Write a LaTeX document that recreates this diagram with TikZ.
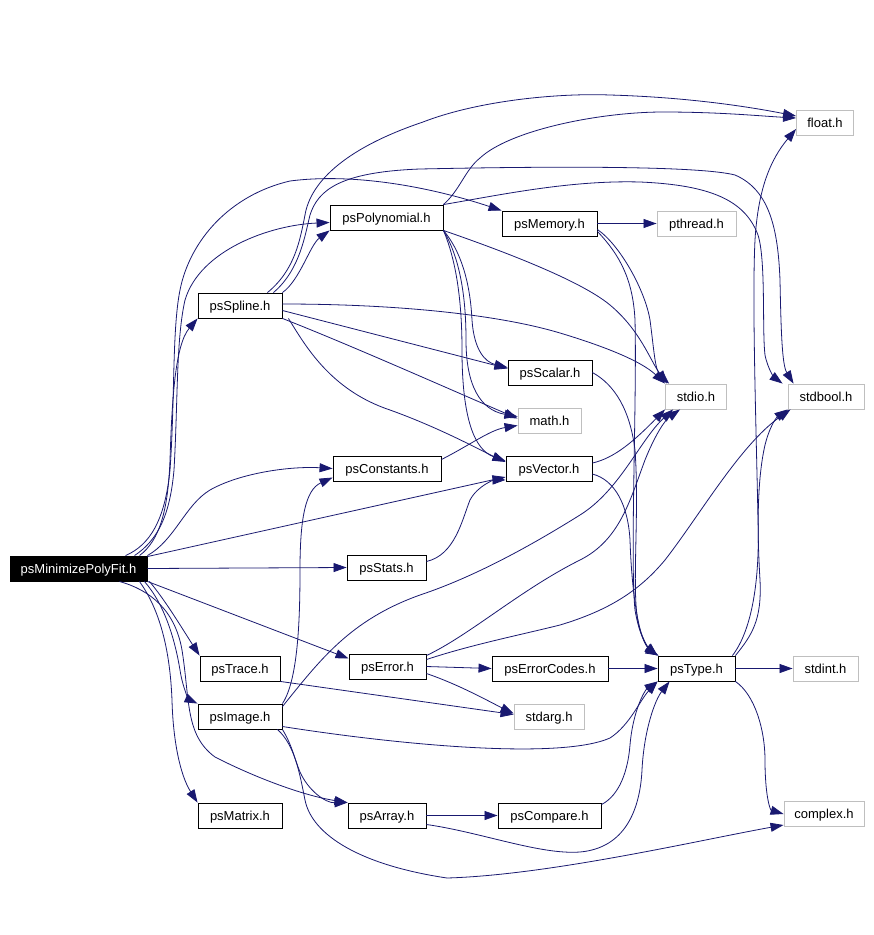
\documentclass[tikz,border=0pt]{standalone}
\usepackage{fontspec}
\setmainfont{Liberation Sans}
\usetikzlibrary{arrows.meta,calc}
\definecolor{edgeblue}{HTML}{191970}
\definecolor{sysgray}{HTML}{BFBFBF}
\begin{document}
\begin{tikzpicture}[x=1pt,y=-1pt,
  nd/.style={draw=black,line width=0.9pt,inner sep=0pt,minimum height=25pt,text height=12pt,text depth=2.5pt,font=\fontsize{13}{15}\selectfont},
  sys/.style={nd,draw=sysgray},
  ed/.style={draw=edgeblue,line width=0.8pt,-{Triangle[length=13pt,width=9pt]}}]
\useasboundingbox[fill=white] (0,0) rectangle (874,935);
% nodes
\node[nd,fill=black,text=white,minimum width=137pt] (M) at (78.5,568.5) {psMinimizePolyFit.h};
\node[nd,minimum width=84pt] (spline) at (240,305.5) {psSpline.h};
\node[nd,minimum width=113pt] (poly) at (386.5,217.5) {psPolynomial.h};
\node[nd,minimum width=95pt] (memory) at (549.5,223.5) {psMemory.h};
\node[sys,minimum width=79pt] (pthread) at (696.5,223.5) {pthread.h};
\node[sys,minimum width=57pt] (float) at (825,123) {float.h};
\node[nd,minimum width=84pt] (scalar) at (550,372.5) {psScalar.h};
\node[sys,minimum width=61pt] (stdio) at (696,396.5) {stdio.h};
\node[sys,minimum width=76pt] (stdbool) at (826,396.5) {stdbool.h};
\node[sys,minimum width=63pt] (math) at (549.5,420.5) {math.h};
\node[nd,minimum width=86pt] (vector) at (549,469) {psVector.h};
\node[nd,minimum width=108pt] (constants) at (387,468.5) {psConstants.h};
\node[nd,minimum width=79pt] (stats) at (386.5,567.5) {psStats.h};
\node[nd,minimum width=77pt] (error) at (387.5,666.5) {psError.h};
\node[nd,minimum width=116pt] (errcodes) at (550,668.5) {psErrorCodes.h};
\node[nd,minimum width=77pt] (type) at (696.5,668.5) {psType.h};
\node[sys,minimum width=65pt] (stdint) at (825.5,668.5) {stdint.h};
\node[sys,minimum width=70pt] (stdarg) at (549,716.5) {stdarg.h};
\node[nd,minimum width=80pt] (trace) at (240,668.5) {psTrace.h};
\node[nd,minimum width=84pt] (image) at (240,716.5) {psImage.h};
\node[nd,minimum width=84pt] (matrix) at (240,815.5) {psMatrix.h};
\node[nd,minimum width=78pt] (array) at (387,815.5) {psArray.h};
\node[nd,minimum width=103pt] (compare) at (549.5,815.5) {psCompare.h};
\node[sys,minimum width=80pt] (complex) at (824,814) {complex.h};
% edges from psMinimizePolyFit.h
\draw[ed] ($(M.north west)+(130,0)$) .. controls (160,540) and (168,510) .. (170,460) .. controls (172,400) and (175,345) .. (spline.south west);
\draw[ed] ($(M.north west)+(125,0)$) .. controls (158,540) and (170,515) .. (174,470) .. controls (178,400) and (176,340) .. (185,300) .. controls (200,250) and (270,225) .. ($(poly.west)+(0,5)$);
\draw[ed] ($(M.north west)+(116,0)$) .. controls (150,545) and (165,520) .. (170,470) .. controls (175,400) and (172,330) .. (180,290) .. controls (190,240) and (230,195) .. (290,181) .. controls (360,172) and (440,190) .. (memory.north west);
\draw[ed] (M.north east) .. controls (175,540) and (185,505) .. (210,490) .. controls (240,473) and (290,466) .. (constants.west);
\draw[ed] ($(M.north east)+(0,1)$) -- ($(vector.west)+(0,8)$);
\draw[ed] (M.east) -- (stats.west);
\draw[ed] (M.south east) -- ($(error.west)+(0,-8)$);
\draw[ed] ($(M.south east)+(2,0)$) .. controls (165,600) and (180,625) .. (trace.north west);
\draw[ed] ($(M.south east)+(-3,0)$) .. controls (165,605) and (175,640) .. (180,670) .. controls (183,690) and (190,700) .. (image.north west);
\draw[ed] ($(M.south east)+(-8,0)$) .. controls (160,610) and (170,650) .. (172,700) .. controls (173,740) and (180,775) .. (matrix.north west);
\draw[ed] ($(M.south east)+(-28,0)$) .. controls (150,590) and (175,610) .. (182,650) .. controls (190,700) and (185,735) .. (215,757) .. controls (250,775) and (300,795) .. (array.north west);
% psSpline.h
\draw[ed] ($(spline.north east)+(-15,0)$) .. controls (295,270) and (300,240) .. (305,215) .. controls (310,185) and (340,150) .. (423,122) .. controls (480,100) and (560,93) .. (610,95) .. controls (680,97) and (740,105) .. ($(float.west)+(0,-7)$);
\draw[ed] ($(spline.north east)+(-9,0)$) .. controls (300,270) and (305,235) .. (310,215) .. controls (318,190) and (340,172) .. (420,169) .. controls (560,166) and (700,166) .. (735,175) .. controls (770,190) and (778,230) .. (780,280) .. controls (781,330) and (782,365) .. ($(stdbool.north west)+(6,0)$);
\draw[ed] (spline.north east) .. controls (300,280) and (310,245) .. (poly.south west);
\draw[ed] ($(spline.east)+(0,-1.5)$) .. controls (400,304) and (500,315) .. (560,333) .. controls (600,345) and (640,360) .. ($(stdio.north west)+(0,0)$);
\draw[ed] ($(spline.east)+(0,5)$) -- ($(scalar.west)+(0,-4)$);
\draw[ed] (spline.south east) .. controls (350,345) and (440,385) .. ($(math.west)+(0,-2)$);
\draw[ed] ($(spline.south east)+(6,0)$) .. controls (305,345) and (330,390) .. (390,410) .. controls (440,428) and (480,450) .. ($(vector.west)+(0,-7)$);
% psPolynomial.h
\draw[ed] (poly.north east) .. controls (460,190) and (465,170) .. (480,158) .. controls (510,130) and (600,112) .. (663,112) .. controls (720,112) and (760,116) .. ($(float.west)+(0,-5)$);
\draw[ed] (poly.north east) .. controls (500,195) and (570,180) .. (640,182) .. controls (710,185) and (745,200) .. (758,235) .. controls (766,260) and (762,330) .. (765,355) .. controls (768,370) and (775,378) .. ($(stdbool.north west)+(-5,0)$);
\draw[ed] (poly.south east) .. controls (500,250) and (580,280) .. (610,305) .. controls (640,330) and (650,360) .. ($(stdio.north west)+(2,0)$);
\draw[ed] (poly.south east) .. controls (460,250) and (470,280) .. (472,320) .. controls (474,350) and (485,362) .. ($(scalar.west)+(0,-5)$);
\draw[ed] (poly.south east) .. controls (458,255) and (466,290) .. (466,340) .. controls (466,385) and (480,410) .. ($(math.west)+(0,-4)$);
\draw[ed] (poly.south east) .. controls (456,260) and (462,300) .. (462,350) .. controls (462,420) and (475,450) .. ($(vector.west)+(0,-8)$);
% psMemory.h
\draw[ed] (memory.east) -- (pthread.west);
\draw[ed] ($(memory.east)+(0,6)$) .. controls (620,245) and (645,290) .. (650,320) .. controls (654,350) and (655,370) .. ($(stdio.north west)+(4,0)$);
\draw[ed] ($(memory.east)+(0,8)$) .. controls (620,255) and (633,280) .. (635,320) .. controls (637,400) and (630,560) .. (635,610) .. controls (640,640) and (650,650) .. (type.north west);
% psScalar.h, psVector.h, psConstants.h, psStats.h
\draw[ed] (scalar.east) .. controls (615,385) and (630,410) .. (635,450) .. controls (640,520) and (630,600) .. (640,630) .. controls (645,645) and (652,652) .. ($(type.north west)+(1,0)$);
\draw[ed] ($(vector.east)+(0,-6)$) .. controls (615,458) and (635,440) .. ($(stdio.south west)+(0,0)$);
\draw[ed] ($(vector.east)+(0,5)$) .. controls (615,480) and (628,505) .. (630,540) .. controls (632,600) and (640,640) .. (type.north west);
\draw[ed] ($(constants.east)+(0,-9)$) .. controls (470,445) and (490,430) .. ($(math.west)+(0,5)$);
\draw[ed] ($(stats.east)+(0,-6)$) .. controls (455,555) and (462,520) .. (470,500) .. controls (478,485) and (495,480) .. ($(vector.south west)+(0,-2)$);
% psError.h
\draw[ed] (error.east) -- (errcodes.west);
\draw[ed] ($(error.east)+(0,7)$) .. controls (460,685) and (490,702) .. ($(stdarg.west)+(0,-3)$);
\draw[ed] ($(error.north east)+(0,2)$) .. controls (470,635) and (520,590) .. (580,560) .. controls (620,540) and (630,500) .. (645,460) .. controls (655,435) and (665,420) .. ($(stdio.south west)+(15,0)$);
\draw[ed] ($(error.north east)+(0,6)$) .. controls (470,645) and (520,635) .. (560,625) .. controls (610,610) and (640,590) .. (665,560) .. controls (700,515) and (740,445) .. ($(stdbool.south west)+(3,0)$);
% psErrorCodes.h, psType.h
\draw[ed] (errcodes.east) -- (type.west);
\draw[ed] (type.east) -- (stdint.west);
\draw[ed] ($(type.north east)+(-3,0)$) .. controls (752,630) and (760,580) .. (758,520) .. controls (756,420) and (752,300) .. (755,240) .. controls (758,190) and (770,160) .. ($(float.west)+(0,6)$);
\draw[ed] (type.north east) .. controls (752,635) and (762,620) .. (760,580) .. controls (757,530) and (757,480) .. (765,445) .. controls (770,425) and (777,417) .. (stdbool.south west);
\draw[ed] (type.south east) .. controls (755,695) and (765,730) .. (765,760) .. controls (765,795) and (770,810) .. (complex.west);
% psTrace.h, psImage.h
\draw[ed] (trace.south east) -- ($(stdarg.west)+(0,-2)$);
\draw[ed] ($(image.east)+(0,10)$) .. controls (400,745) and (560,760) .. (610,738) .. controls (630,725) and (640,700) .. (type.south west);
\draw[ed] (image.south east) .. controls (292,745) and (295,760) .. (300,772) .. controls (308,790) and (325,803) .. (array.north west);
\draw[ed] ($(image.south east)+(-5,0)$) .. controls (295,745) and (300,775) .. (305,800) .. controls (312,835) and (360,865) .. (447,878) .. controls (550,875) and (700,840) .. ($(complex.west)+(0,11)$);
\draw[ed] (image.north east) .. controls (298,680) and (300,620) .. (300,570) .. controls (300,520) and (305,490) .. ($(constants.west)+(0,9)$);
\draw[ed] ($(image.north east)+(0,3)$) .. controls (320,660) and (350,620) .. (420,595) .. controls (480,575) and (540,540) .. (580,515) .. controls (620,490) and (640,440) .. ($(stdio.south west)+(8,0)$);
% psArray.h, psCompare.h
\draw[ed] (array.east) -- (compare.west);
\draw[ed] ($(array.east)+(0,9)$) .. controls (480,832) and (540,855) .. (580,852) .. controls (625,848) and (640,810) .. (642,770) .. controls (644,730) and (655,700) .. ($(type.south west)+(12,0)$);
\draw[ed] ($(compare.north east)+(0,2)$) .. controls (620,795) and (628,770) .. (630,745) .. controls (633,710) and (645,690) .. (type.south west);
\end{tikzpicture}
\end{document}
